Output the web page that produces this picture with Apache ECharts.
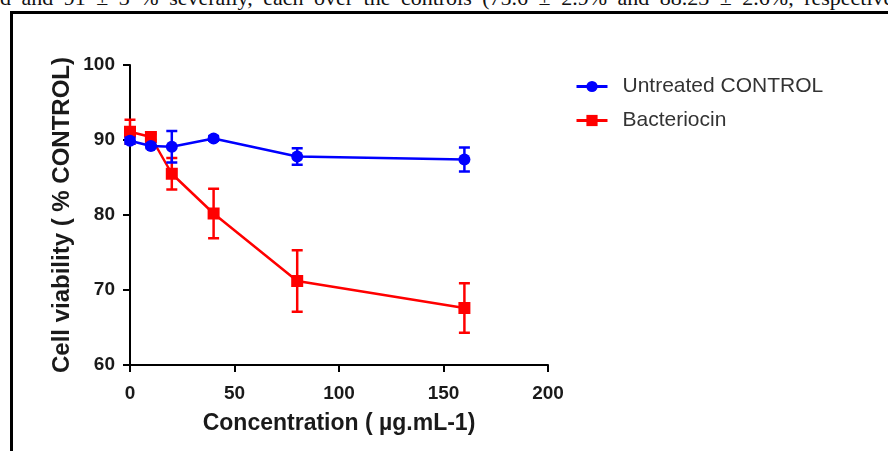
<!DOCTYPE html>
<html>
<head>
<meta charset="utf-8">
<script src="https://cdn.jsdelivr.net/npm/echarts@6/dist/echarts.min.js"></script>
<style>
  html, body { margin:0; padding:0; background:#fff; width:888px; height:451px; overflow:hidden; }
  #topline { position:absolute; left:0; top:-13px; white-space:nowrap; font-family:"Liberation Serif","DejaVu Serif",serif; font-size:22px; line-height:22px; word-spacing:5px; color:#111; }
  #frame { position:absolute; left:10px; top:11px; width:900px; height:500px; border-left:3px solid #000; border-top:3px solid #000; }
  #chart { position:absolute; left:0; top:0; width:888px; height:451px; }
</style>
</head>
<body>
<div id="topline">d and 91 ± 3 % severally, each over the controls (75.6 ± 2.9% and 88.23 ± 2.6%, respectively</div>
<div id="frame"></div>
<div id="chart"></div>
<script>
const concentrations = [0, 10, 20, 40, 80, 160];
const controlMean = [89.9, 89.2, 89.1, 90.2, 87.8, 87.4];
const controlErr  = [0.4, 0.3, 2.1, 0.3, 1.1, 1.6];
const bacteriocinMean = [91.1, 90.4, 85.5, 80.2, 71.2, 67.6];
const bacteriocinErr  = [1.6, 0.4, 2.1, 3.3, 4.1, 3.3];
const xTicks = [0, 50, 100, 150, 200];
const yTicks = [60, 70, 80, 90, 100];
const seriesNames = ['Untreated CONTROL', 'Bacteriocin'];

const BLUE = '#0000ff', RED = '#ff0000';

function pts(means) { return concentrations.map((c, i) => [c, means[i]]); }
function errs(means, e) { return concentrations.map((c, i) => [c, means[i] - e[i], means[i] + e[i]]); }

function errorRenderer(color) {
  return function (params, api) {
    const x = api.value(0), lo = api.value(1), hi = api.value(2);
    const a = api.coord([x, lo]), b = api.coord([x, hi]);
    const w = 5.5;
    const st = { stroke: color, lineWidth: 2.5 };
    return {
      type: 'group',
      children: [
        { type: 'line', shape: { x1: a[0], y1: a[1], x2: b[0], y2: b[1] }, style: st },
        { type: 'line', shape: { x1: a[0] - w, y1: a[1], x2: a[0] + w, y2: a[1] }, style: st },
        { type: 'line', shape: { x1: b[0] - w, y1: b[1], x2: b[0] + w, y2: b[1] }, style: st }
      ]
    };
  };
}

const chart = echarts.init(document.getElementById('chart'), null, { renderer: 'canvas' });
const FONT = 'Liberation Sans, Arial, sans-serif';
const tickFont = { fontFamily: FONT, fontWeight: 'bold', fontSize: 19, color: '#1a1a1a' };

chart.setOption({
  animation: false,
  backgroundColor: 'transparent',
  grid: { left: 130, right: 340, top: 65, bottom: 86, containLabel: false },
  legend: {
    orient: 'vertical',
    left: 570,
    top: 71,
    itemWidth: 31,
    itemHeight: 14,
    itemGap: 13,
    data: seriesNames,
    lineStyle: { width: 3 },
    textStyle: { fontFamily: FONT, fontSize: 21, color: '#333', padding: [0, 0, 0, 10] }
  },
  xAxis: {
    type: 'value',
    min: xTicks[0], max: xTicks[xTicks.length - 1], interval: xTicks[1] - xTicks[0],
    name: 'Concentration ( µg.mL-1)',
    nameLocation: 'middle',
    nameGap: 47,
    nameTextStyle: { fontFamily: FONT, fontWeight: 'bold', fontSize: 23, color: '#1a1a1a' },
    axisLine: { show: true, onZero: false, lineStyle: { color: '#000', width: 2 } },
    axisTick: { show: true, length: 7, lineStyle: { color: '#000', width: 2 } },
    axisLabel: Object.assign({ margin: 19 }, tickFont),
    splitLine: { show: false }
  },
  yAxis: {
    type: 'value',
    min: yTicks[0], max: yTicks[yTicks.length - 1], interval: yTicks[1] - yTicks[0],
    name: 'Cell viability ( % CONTROL)',
    nameLocation: 'middle',
    nameGap: 56,
    nameRotate: 90,
    nameTextStyle: { fontFamily: FONT, fontWeight: 'bold', fontSize: 24, color: '#1a1a1a' },
    axisLine: { show: true, onZero: false, lineStyle: { color: '#000', width: 2 } },
    axisTick: { show: true, length: 7, lineStyle: { color: '#000', width: 2 } },
    axisLabel: Object.assign({ margin: 15 }, tickFont),
    splitLine: { show: false }
  },
  series: [
    {
      name: 'Bacteriocin error', type: 'custom', renderItem: errorRenderer(RED),
      data: errs(bacteriocinMean, bacteriocinErr), z: 2, clip: false, silent: true,
      encode: { x: 0, y: [1, 2] }
    },
    {
      name: seriesNames[1], type: 'line', data: pts(bacteriocinMean),
      symbol: 'rect', symbolSize: 12, color: RED,
      lineStyle: { color: RED, width: 2.5 }, itemStyle: { color: RED }, z: 3
    },
    {
      name: 'Control error', type: 'custom', renderItem: errorRenderer(BLUE),
      data: errs(controlMean, controlErr), z: 4, clip: false, silent: true,
      encode: { x: 0, y: [1, 2] }
    },
    {
      name: seriesNames[0], type: 'line', data: pts(controlMean),
      symbol: 'circle', symbolSize: 12, color: BLUE,
      lineStyle: { color: BLUE, width: 2.5 }, itemStyle: { color: BLUE }, z: 5
    }
  ]
});
</script>
</body>
</html>
